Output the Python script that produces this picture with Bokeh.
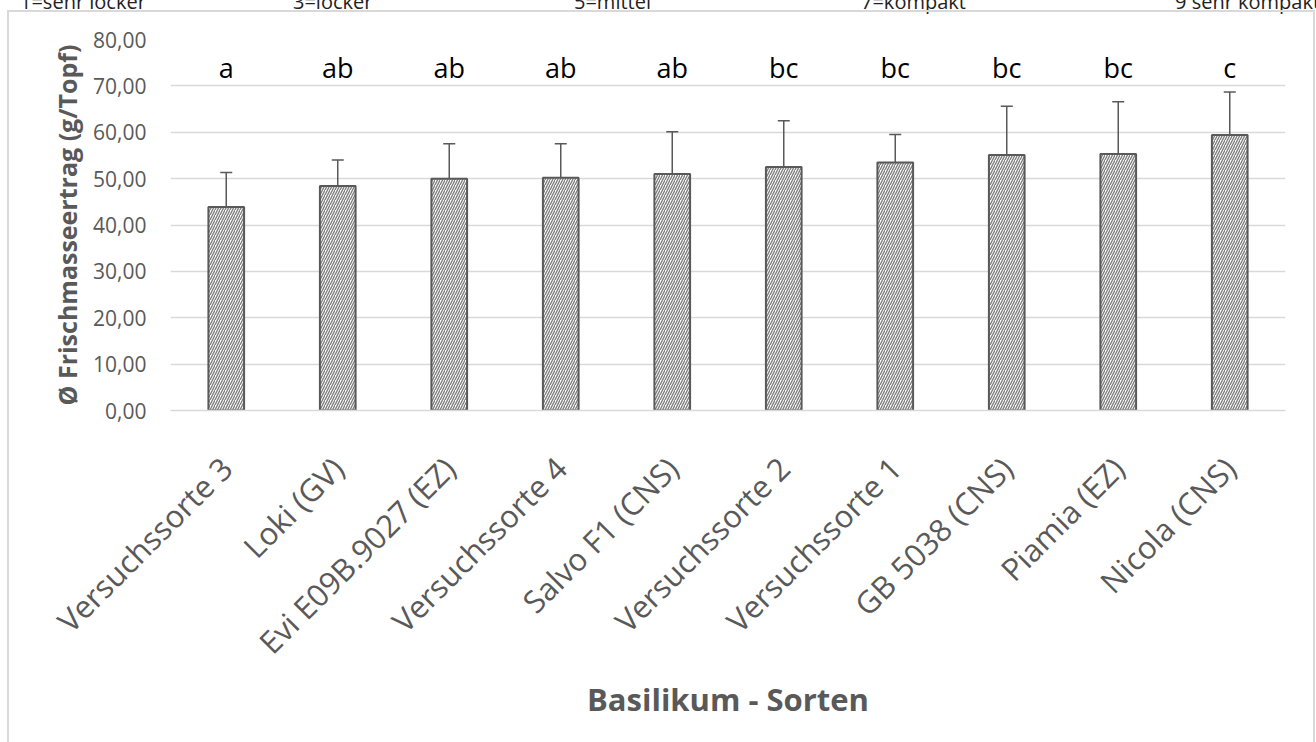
import math
from bokeh.plotting import figure
from bokeh.layouts import column
from bokeh.models import (ColumnDataSource, Whisker, TeeHead, CustomJSTickFormatter,
                          FixedTicker, Range1d, GlobalInlineStyleSheet, Div)
from bokeh.embed import file_html
from bokeh.resources import INLINE
from bokeh.core.properties import value

# ---------------- data ----------------
sorten = ["Versuchssorte 3", "Loki (GV)", "Evi E09B.9027 (EZ)", "Versuchssorte 4",
          "Salvo F1 (CNS)", "Versuchssorte 2", "Versuchssorte 1", "GB 5038 (CNS)",
          "Piamia (EZ)", "Nicola (CNS)"]
mittelwert = [43.9, 48.4, 50.0, 50.2, 51.0, 52.5, 53.5, 55.1, 55.3, 59.4]
stdabw = [7.4, 5.6, 7.5, 7.3, 9.1, 10.0, 6.0, 10.5, 11.3, 9.3]
gruppen = ["a", "ab", "ab", "ab", "ab", "bc", "bc", "bc", "bc", "c"]
y_ticks = [0, 10, 20, 30, 40, 50, 60, 70, 80]
skala_texte = ["1=sehr locker", "3=locker", "5=mittel", "7=kompakt", "9 sehr kompakt"]

# ---------------- layout constants ----------------
FONT = "Open Sans"
GREY = "#595959"
LETTER_Y = 74
W, H = 1316, 742
skala_x = [15, 288, 569, 856, 1170]

oben = [m + s for m, s in zip(mittelwert, stdabw)]
unten = [m - s for m, s in zip(mittelwert, stdabw)]
src = ColumnDataSource(dict(x=sorten, top=mittelwert, upper=oben, lower=unten,
                            grp=gruppen, ly=[LETTER_Y] * len(sorten)))

css = """
html, body { margin: 0 !important; padding: 0 !important; overflow: hidden; }
body::after { content: ''; position: fixed; left: 7px; top: 10px; width: 1308px; height: 800px;
  box-sizing: border-box; border: 2px solid #d9d9d9; pointer-events: none; z-index: 100; }
"""

p = figure(width=W, height=H, x_range=sorten, y_range=Range1d(0, 80),
           output_backend="svg", toolbar_location=None,
           min_border_left=170, min_border_right=31, min_border_top=39, min_border_bottom=332)
p.stylesheets = [GlobalInlineStyleSheet(css=css)]
p.outline_line_color = None
p.background_fill_color = "white"
p.border_fill_color = "white"

p.vbar(x="x", top="top", width=0.32, source=src, fill_color="white",
       line_color=GREY, line_width=2, hatch_pattern="/", hatch_color="#808080",
       hatch_weight=1.4, hatch_scale=5)

w = Whisker(source=src, base="x", upper="upper", lower="lower",
            line_color=GREY, line_width=1.5,
            upper_head=TeeHead(size=12, line_color=GREY, line_width=1.5),
            lower_head=TeeHead(size=12, line_color=GREY, line_width=1.5))
p.add_layout(w)

p.text(x="x", y="ly", text="grp", source=src, text_font=value(FONT),
       text_font_size="27px", text_align="center", text_baseline="middle",
       text_color="black")

# grid
p.xgrid.grid_line_color = None
p.ygrid.grid_line_color = "#d9d9d9"
p.ygrid.grid_line_width = 1.5
p.ygrid.ticker = FixedTicker(ticks=y_ticks)

# y axis
p.yaxis.ticker = FixedTicker(ticks=y_ticks)
p.yaxis.formatter = CustomJSTickFormatter(code="return tick.toFixed(2).replace('.', ',');")
p.yaxis.axis_line_color = None
p.yaxis.major_tick_line_color = None
p.yaxis.minor_tick_line_color = None
p.yaxis.major_label_text_font = FONT
p.yaxis.major_label_text_font_size = "21px"
p.yaxis.major_label_text_color = GREY
p.yaxis.major_label_standoff = 18
p.yaxis.axis_label = "Ø Frischmasseertrag (g/Topf)"
p.yaxis.axis_label_text_font = FONT
p.yaxis.axis_label_text_font_style = "bold"
p.yaxis.axis_label_text_font_size = "25px"
p.yaxis.axis_label_text_color = GREY
p.yaxis.axis_label_standoff = 6

# x axis
p.xaxis.axis_line_color = "#d9d9d9"
p.xaxis.axis_line_width = 1.5
p.xaxis.major_tick_line_color = None
p.xaxis.minor_tick_line_color = None
p.xaxis.major_label_orientation = math.pi / 4
p.xaxis.major_label_text_font = FONT
p.xaxis.major_label_text_font_size = "31px"
p.xaxis.major_label_text_color = GREY
p.xaxis.major_label_standoff = 46
p.xaxis.axis_label = "Basilikum - Sorten"
p.xaxis.axis_label_text_font = FONT
p.xaxis.axis_label_text_font_style = "bold"
p.xaxis.axis_label_text_font_size = "31px"
p.xaxis.axis_label_text_color = GREY
p.xaxis.axis_label_standoff = -2

# scale legend remnants at the very top (only their lower part is visible)
spans = "".join(
    f"<span style='position:absolute; left:{xx}px; top:0px; white-space:nowrap;'>{t}</span>"
    for t, xx in zip(skala_texte, skala_x))
skala_div = Div(text=spans, width=W, height=30,
                styles={"position": "absolute", "left": "0px", "top": "-17px",
                        "font-family": FONT, "font-size": "20px", "color": "#222222",
                        "line-height": "28px", "z-index": "50", "overflow": "visible"})

layout = column(p, skala_div)
open("out.html", "w").write(file_html(layout, INLINE))
